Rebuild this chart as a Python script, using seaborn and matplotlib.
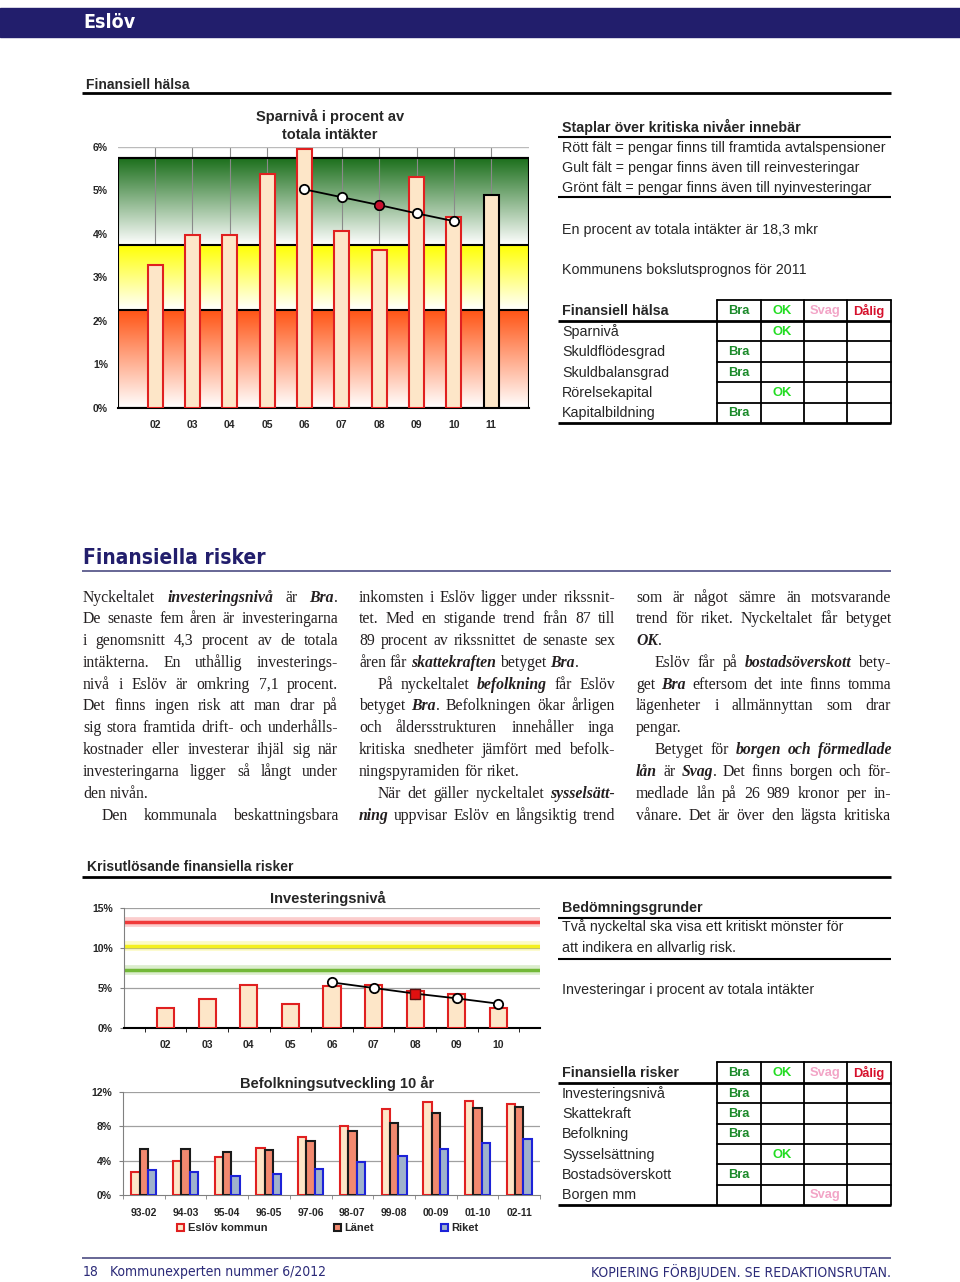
import numpy as np
import pandas as pd
import matplotlib
matplotlib.use("Agg")
import matplotlib.pyplot as plt
import seaborn as sns
from matplotlib import font_manager
from matplotlib.font_manager import FontProperties
from matplotlib.patches import Rectangle, Patch
from matplotlib.ticker import PercentFormatter

# ---- data ----
SPAR_YEARS = ["02", "03", "04", "05", "06", "07", "08", "09", "10", "11"]
SPAR_PCT = [3.29, 3.98, 3.98, 5.37, 5.94, 4.07, 3.62, 5.31, 4.38, 4.90]
SPAR_TREND_YEARS = ["06", "07", "08", "09", "10"]
SPAR_TREND = [5.02, 4.84, 4.66, 4.47, 4.29]
SPAR_MARK_YEAR = "08"

INV_YEARS = ["02", "03", "04", "05", "06", "07", "08", "09", "10"]
INV_PCT = [2.5, 3.67, 5.33, 3.0, 5.2, 5.33, 4.58, 4.25, 2.54]
INV_TREND_YEARS = ["06", "07", "08", "09", "10"]
INV_TREND = [5.7, 5.0, 4.3, 3.7, 3.04]
INV_MARK_YEAR = "08"

BEF_PERIODS = ["93-02", "94-03", "95-04", "96-05", "97-06",
               "98-07", "99-08", "00-09", "01-10", "02-11"]
BEF_AREAS = ["Eslöv kommun", "Länet", "Riket"]
BEF_ESLOV = [2.73, 4.0, 4.48, 5.45, 6.73, 8.05, 10.0, 10.86, 10.93, 10.58]
BEF_LANET = [5.41, 5.41, 4.98, 5.25, 6.34, 7.47, 8.44, 9.61, 10.12, 10.23]
BEF_RIKET = [2.92, 2.65, 2.22, 2.41, 3.07, 3.81, 4.55, 5.41, 6.03, 6.5]

HALSA_ROWS = ["Sparnivå", "Skuldflödesgrad", "Skuldbalansgrad", "Rörelsekapital", "Kapitalbildning"]
HALSA_GRADES = ["OK", "Bra", "Bra", "OK", "Bra"]
RISK_ROWS = ["Investeringsnivå", "Skattekraft", "Befolkning", "Sysselsättning", "Bostadsöverskott", "Borgen mm"]
RISK_GRADES = ["Bra", "Bra", "Bra", "OK", "Bra", "Svag"]
GRADES = ["Bra", "OK", "Svag", "Dålig"]

COL1 = [
    ("Nyckeltalet *investeringsnivå* är *Bra*.", True),
    ("De senaste fem åren är investeringarna", True),
    ("i genomsnitt 4,3 procent av de totala", True),
    ("intäkterna. En uthållig investerings-", True),
    ("nivå i Eslöv är omkring 7,1 procent.", True),
    ("Det finns ingen risk att man drar på", True),
    ("sig stora framtida drift- och underhålls-", True),
    ("kostnader eller investerar ihjäl sig när", True),
    ("investeringarna ligger så långt under", True),
    ("den nivån.", False),
    (">Den kommunala beskattningsbara", True),
]
COL2 = [
    ("inkomsten i Eslöv ligger under rikssnit-", True),
    ("tet. Med en stigande trend från 87 till", True),
    ("89 procent av rikssnittet de senaste sex", True),
    ("åren får *skattekraften* betyget *Bra*.", False),
    (">På nyckeltalet *befolkning* får Eslöv", True),
    ("betyget *Bra*. Befolkningen ökar årligen", True),
    ("och åldersstrukturen innehåller inga", True),
    ("kritiska snedheter jämfört med befolk-", True),
    ("ningspyramiden för riket.", False),
    (">När det gäller nyckeltalet *sysselsätt-*", True),
    ("*ning* uppvisar Eslöv en långsiktig trend", True),
]
COL3 = [
    ("som är något sämre än motsvarande", True),
    ("trend för riket. Nyckeltalet får betyget", True),
    ("*OK*.", False),
    (">Eslöv får på *bostadsöverskott* bety-", True),
    ("get *Bra* eftersom det inte finns tomma", True),
    ("lägenheter i allmännyttan som drar", True),
    ("pengar.", False),
    (">Betyget för *borgen och förmedlade*", True),
    ("*lån* är *Svag*. Det finns borgen och för-", True),
    ("medlade lån på 26 989 kronor per in-", True),
    ("vånare. Det är över den lägsta kritiska", True),
]

# ---- style ----
SANS = ["Liberation Sans", "DejaVu Sans"]
SERIF = ["Liberation Serif", "DejaVu Serif"]
NAVY = "#221e6c"
PEACH = "#fde6c8"
SALMON = "#f2896f"
STEEL = "#9fb2cc"
GRADE_COLORS = {"Bra": "#1b8a2a", "OK": "#22dd22", "Svag": "#f2a4c6", "Dålig": "#d6102c"}

sns.set_style("white")
plt.rcParams["font.family"] = SANS


def condensed_font(bold, size, fallback_size):
    # the page uses a narrow sans; take one if the system has it
    for f in font_manager.fontManager.ttflist:
        nm = f.fname.lower()
        if ("condensed" in nm or "narrow" in nm) and "sans" in nm and "mono" not in nm \
                and "oblique" not in nm and "italic" not in nm and bold == ("bold" in nm):
            return FontProperties(fname=f.fname, size=size)
    return FontProperties(family=SANS, weight="bold" if bold else "normal", size=fallback_size)


HEAD_FONT = condensed_font(True, 15, 15)
BAND_FONT = condensed_font(True, 14, 14)
FOOT_FONT = condensed_font(False, 10, 9)

W, H = 960, 1282
fig = plt.figure(figsize=(W / 100, H / 100), dpi=100)
page = fig.add_axes([0, 0, 1, 1], zorder=0)
page.set_xlim(0, W)
page.set_ylim(H, 0)
page.axis("off")
renderer = fig.canvas.get_renderer()


def px_axes(x0, y0, x1, y1):
    ax = fig.add_axes([x0 / W, 1 - y1 / H, (x1 - x0) / W, (y1 - y0) / H], zorder=2)
    ax.set_facecolor("none")
    return ax


def hline(y, x0, x1, lw=1.5, color="black"):
    page.plot([x0, x1], [y, y], color=color, lw=lw, solid_capstyle="butt")


def gradient(ax, y0, y1, rgb, x0, x1):
    t = np.linspace(0, 1, 200)[:, None]
    img = np.ones((200, 1, 3)) * (1 - t[..., None]) + np.array(rgb)[None, None, :] * t[..., None]
    ax.imshow(img, extent=[x0, x1, y0, y1], origin="lower", aspect="auto", zorder=0)


# ---- header band ----
page.add_patch(Rectangle((0, 8), W, 29, color=NAVY, zorder=1))
page.text(83, 22, "Eslöv", color="white", fontproperties=BAND_FONT, va="center", ha="left", zorder=2)

page.text(86, 85, "Finansiell hälsa", fontsize=10, fontweight="bold", va="center")
hline(93, 82, 891, lw=2)

# ---- chart 1: Sparnivå ----
ax1 = px_axes(117.7, 146.7, 528.6, 408)
n1 = len(SPAR_YEARS)
gradient(ax1, 0, 2.25, (1.0, 0.33, 0.08), -1, n1)
gradient(ax1, 2.25, 3.75, (1.0, 1.0, 0.0), -1, n1)
gradient(ax1, 3.75, 5.75, (0.10, 0.43, 0.10), -1, n1)
ax1.vlines(range(n1), 3.75, 6, color="#8a8a8a", lw=0.8, zorder=1)
for lvl in (2.25, 3.75, 5.75):
    ax1.axhline(lvl, color="black", lw=1.5, zorder=2)
ax1.add_patch(Rectangle((-1, 0), n1 + 1, 5.75, fill=False, ec="black", lw=1.5, zorder=2))
ax1.axhline(6, color="#bbbbbb", lw=1, zorder=1)

df1 = pd.DataFrame({"year": SPAR_YEARS, "pct": SPAR_PCT})
sns.barplot(data=df1, x="year", y="pct", order=SPAR_YEARS, color=PEACH, saturation=1,
            width=0.4, edgecolor="#e02020", linewidth=1.5, ax=ax1, zorder=3)
ax1.containers[0].patches[-1].set_edgecolor("black")

tx1 = [SPAR_YEARS.index(y) for y in SPAR_TREND_YEARS]
sns.lineplot(x=tx1, y=SPAR_TREND, color="black", lw=1.3, ax=ax1, zorder=5)
sns.scatterplot(x=tx1, y=SPAR_TREND, color="white", edgecolor="black", linewidth=1.3,
                s=45, ax=ax1, zorder=6)
sns.scatterplot(x=[SPAR_YEARS.index(SPAR_MARK_YEAR)],
                y=[SPAR_TREND[SPAR_TREND_YEARS.index(SPAR_MARK_YEAR)]],
                color="#c8102e", edgecolor="black", linewidth=1.0, s=45, ax=ax1, zorder=7)

ax1.set_xlim(-1, n1)
ax1.set_ylim(0, 6)
ax1.set_yticks(range(7))
ax1.yaxis.set_major_formatter(PercentFormatter(decimals=0))
ax1.set_xlabel("")
ax1.set_ylabel("")
ax1.tick_params(length=0, labelsize=7.5)
ax1.tick_params(axis="y", pad=7)
ax1.tick_params(axis="x", pad=9)
for lab in ax1.get_xticklabels() + ax1.get_yticklabels():
    lab.set_fontweight("bold")
for s in ax1.spines.values():
    s.set_visible(False)
ax1.spines["bottom"].set_visible(True)
ax1.spines["bottom"].set_color("black")
ax1.spines["bottom"].set_linewidth(1.5)
page.text(330, 116, "Sparnivå i procent av", fontsize=10.5, fontweight="bold", ha="center", va="center")
page.text(330, 135, "totala intäkter", fontsize=10.5, fontweight="bold", ha="center", va="center")

# ---- right panel 1 ----
FS = 10.3
page.text(562, 127, "Staplar över kritiska nivåer innebär", fontsize=FS, fontweight="bold", va="center")
hline(137, 558, 891)
page.text(562, 148, "Rött fält = pengar finns till framtida avtalspensioner", fontsize=FS, va="center")
page.text(562, 168, "Gult fält = pengar finns även till reinvesteringar", fontsize=FS, va="center")
page.text(562, 188, "Grönt fält = pengar finns även till nyinvesteringar", fontsize=FS, va="center")
hline(197, 558, 891)
page.text(562, 230, "En procent av totala intäkter är 18,3 mkr", fontsize=FS, va="center")
page.text(562, 270, "Kommunens bokslutsprognos för 2011", fontsize=FS, va="center")

COLX = [717, 761, 804, 847, 891]


def grade_table(top, head_bottom, bottom, title, rows, grades):
    rh = (bottom - head_bottom) / len(rows)
    page.plot([COLX[0], COLX[-1]], [top, top], color="black", lw=1.3)
    for x in COLX:
        page.plot([x, x], [top, bottom], color="black", lw=1.3)
    for i in range(1, len(rows)):
        y = head_bottom + i * rh
        page.plot([COLX[0], COLX[-1]], [y, y], color="black", lw=1.3)
    hline(head_bottom, 558, 891, lw=2)
    hline(bottom, 558, 891, lw=2)
    hy = (top + head_bottom) / 2 + 0.5
    page.text(562, hy, title, fontsize=FS, fontweight="bold", va="center")
    for j, g in enumerate(GRADES):
        page.text((COLX[j] + COLX[j + 1]) / 2, hy, g, fontsize=9.3, fontweight="bold",
                  color=GRADE_COLORS[g], ha="center", va="center")
    for i, (r, g) in enumerate(zip(rows, grades)):
        cy = head_bottom + (i + 0.5) * rh + 0.5
        page.text(562, cy, r, fontsize=FS, va="center")
        j = GRADES.index(g)
        page.text((COLX[j] + COLX[j + 1]) / 2, cy, g, fontsize=9.3, fontweight="bold",
                  color=GRADE_COLORS[g], ha="center", va="center")


grade_table(300, 321, 423, "Finansiell hälsa", HALSA_ROWS, HALSA_GRADES)

# ---- Finansiella risker text ----
page.text(83, 558, "Finansiella risker", fontproperties=HEAD_FONT, color=NAVY, va="center")
hline(571, 82, 891, lw=1.3, color="#5b5a8c")

BODY_FS = 11.3
BODY_COLOR = "#231f20"


def parse_words(line):
    words, cur, buf, emph = [], [], "", False
    for ch in line:
        if ch == "*":
            if buf:
                cur.append((buf, emph))
                buf = ""
            emph = not emph
        elif ch == " ":
            if buf:
                cur.append((buf, emph))
                buf = ""
            if cur:
                words.append(cur)
                cur = []
        else:
            buf += ch
    if buf:
        cur.append((buf, emph))
    if cur:
        words.append(cur)
    return words


def body_text(txt, emph):
    return page.text(0, 0, txt, family=SERIF, fontsize=BODY_FS, color=BODY_COLOR,
                     fontweight="bold" if emph else "normal",
                     fontstyle="italic" if emph else "normal", va="baseline", ha="left")


probe_a = body_text("n n", False)
probe_b = body_text("nn", False)
SPACE_W = probe_a.get_window_extent(renderer).width - probe_b.get_window_extent(renderer).width
probe_a.remove()
probe_b.remove()


def body_column(x0, x1, lines, y0=597, step=21.8):
    for k, (line, just) in enumerate(lines):
        y = y0 + k * step + 4.5
        xs = x0
        if line.startswith(">"):
            line = line[1:]
            xs += 19
        words = parse_words(line)
        placed = []
        for w in words:
            arts = []
            for txt, emph in w:
                t = body_text(txt, emph)
                arts.append((t, t.get_window_extent(renderer).width))
            placed.append(arts)
        widths = [sum(a[1] for a in arts) for arts in placed]
        if just and len(words) > 1:
            gap = (x1 - xs - sum(widths)) / (len(words) - 1)
        else:
            gap = SPACE_W
        x = xs
        for arts, wd in zip(placed, widths):
            xx = x
            for t, tw in arts:
                t.set_position((xx, y))
                xx += tw
            x += wd + gap


body_column(83, 338, COL1)
body_column(359, 615, COL2)
body_column(636, 891, COL3)

# ---- Krisutlösande ----
page.text(87, 867, "Krisutlösande finansiella risker", fontsize=10, fontweight="bold", va="center")
hline(877, 82, 891, lw=2)

# ---- chart 2: Investeringsnivå ----
ax2 = px_axes(124, 908, 540, 1028)
n2 = len(INV_YEARS)
for lvl, col in zip((13.3, 10.3, 7.3), ("#f03a3a", "#f4f020", "#72b838")):
    ax2.axhline(lvl, color=col, lw=7, alpha=0.25, zorder=1)
    ax2.axhline(lvl, color=col, lw=2.5, zorder=1)
for g in (5, 10, 15):
    ax2.axhline(g, color="#a0a0a0", lw=0.9, zorder=0)
df2 = pd.DataFrame({"year": INV_YEARS, "pct": INV_PCT})
sns.barplot(data=df2, x="year", y="pct", order=INV_YEARS, color=PEACH, saturation=1,
            width=0.41, edgecolor="#e02020", linewidth=1.5, ax=ax2, zorder=3)
tx2 = [INV_YEARS.index(y) for y in INV_TREND_YEARS]
sns.lineplot(x=tx2, y=INV_TREND, color="black", lw=1.3, ax=ax2, zorder=5)
sns.scatterplot(x=tx2, y=INV_TREND, color="white", edgecolor="black", linewidth=1.3,
                s=45, ax=ax2, zorder=6)
sns.scatterplot(x=[INV_YEARS.index(INV_MARK_YEAR)],
                y=[INV_TREND[INV_TREND_YEARS.index(INV_MARK_YEAR)]], marker="s",
                color="#e01010", edgecolor="#5a1010", linewidth=1.0, s=45, ax=ax2, zorder=7)
ax2.set_xlim(-1, n2)
ax2.set_ylim(0, 15)
ax2.set_yticks([0, 5, 10, 15])
ax2.yaxis.set_major_formatter(PercentFormatter(decimals=0))
ax2.set_xticks(np.arange(-0.5, n2, 1), minor=True)
ax2.set_xlabel("")
ax2.set_ylabel("")
ax2.tick_params(axis="both", which="major", labelsize=7.5)
ax2.tick_params(axis="x", which="major", length=0, pad=9)
ax2.tick_params(axis="x", which="minor", length=3, color="black", bottom=True)
ax2.tick_params(axis="y", length=3, color="#808080", left=True, pad=5)
for lab in ax2.get_xticklabels() + ax2.get_yticklabels():
    lab.set_fontweight("bold")
for s in ("top", "right"):
    ax2.spines[s].set_visible(False)
ax2.spines["left"].set_color("#808080")
ax2.spines["bottom"].set_color("black")
ax2.spines["bottom"].set_linewidth(1.5)
page.text(328, 898, "Investeringsnivå", fontsize=10.5, fontweight="bold", ha="center", va="center")

# ---- right panel 2 ----
page.text(562, 908, "Bedömningsgrunder", fontsize=FS, fontweight="bold", va="center")
hline(918, 558, 891)
page.text(562, 927, "Två nyckeltal ska visa ett kritiskt mönster för", fontsize=FS, va="center")
page.text(562, 948, "att indikera en allvarlig risk.", fontsize=FS, va="center")
hline(959, 558, 891)
page.text(562, 990, "Investeringar i procent av totala intäkter", fontsize=FS, va="center")

# ---- chart 3: Befolkningsutveckling ----
ax3 = px_axes(123, 1092, 540, 1195)
n3 = len(BEF_PERIODS)
for g in (4, 8, 12):
    ax3.axhline(g, color="#a0a0a0", lw=0.9, zorder=0)
bef = pd.DataFrame({
    "period": BEF_PERIODS * 3,
    "area": [a for a in BEF_AREAS for _ in BEF_PERIODS],
    "pct": BEF_ESLOV + BEF_LANET + BEF_RIKET,
})
sns.barplot(data=bef, x="period", y="pct", hue="area", order=BEF_PERIODS, hue_order=BEF_AREAS,
            palette=[PEACH, SALMON, STEEL], saturation=1, width=0.6, gap=0, linewidth=1.5,
            legend=False, ax=ax3, zorder=3)
edges = ["#e02020", "#1a1a1a", "#1c22d8"]
for cont, ec in zip(ax3.containers, edges):
    for p in cont:
        p.set_edgecolor(ec)
ax3.set_xlim(-0.5, n3 - 0.5)
ax3.set_ylim(0, 12)
ax3.set_yticks([0, 4, 8, 12])
ax3.yaxis.set_major_formatter(PercentFormatter(decimals=0))
ax3.set_xticks(np.arange(-0.5, n3, 1), minor=True)
ax3.set_xlabel("")
ax3.set_ylabel("")
ax3.tick_params(axis="both", which="major", labelsize=7.5)
ax3.tick_params(axis="x", which="major", length=0, pad=9)
ax3.tick_params(axis="x", which="minor", length=3, color="#808080", bottom=True)
ax3.tick_params(axis="y", length=3, color="#808080", left=True, pad=5)
for lab in ax3.get_xticklabels() + ax3.get_yticklabels():
    lab.set_fontweight("bold")
for s in ("top", "right"):
    ax3.spines[s].set_visible(False)
ax3.spines["left"].set_color("#808080")
ax3.spines["bottom"].set_color("#808080")
handles = [Patch(facecolor=fc, edgecolor=ec, linewidth=1.5, label=lab)
           for fc, ec, lab in zip([PEACH, SALMON, STEEL], edges, BEF_AREAS)]
leg = ax3.legend(handles=handles, loc="center left", bbox_to_anchor=(0.13, -0.32), ncol=3,
                 frameon=False, handlelength=0.6, handleheight=0.6, handletextpad=0.35,
                 columnspacing=6.0, borderaxespad=0, borderpad=0,
                 prop={"family": SANS, "weight": "bold", "size": 8})
page.text(337, 1083, "Befolkningsutveckling 10 år", fontsize=10.5, fontweight="bold",
          ha="center", va="center")

grade_table(1062, 1083, 1205, "Finansiella risker", RISK_ROWS, RISK_GRADES)

# ---- footer ----
hline(1258, 82, 891, lw=1.3, color="#5b5a8c")
page.text(83, 1272, "18", fontproperties=FOOT_FONT, color="#2b2a78", va="center")
page.text(110, 1272, "Kommunexperten nummer 6/2012", fontproperties=FOOT_FONT, color="#2b2a78", va="center")
page.text(891, 1272, "KOPIERING FÖRBJUDEN. SE REDAKTIONSRUTAN.", fontproperties=FOOT_FONT,
          color="#2b2a78", va="center", ha="right")

fig.savefig("out.png", dpi=100, facecolor="white")
